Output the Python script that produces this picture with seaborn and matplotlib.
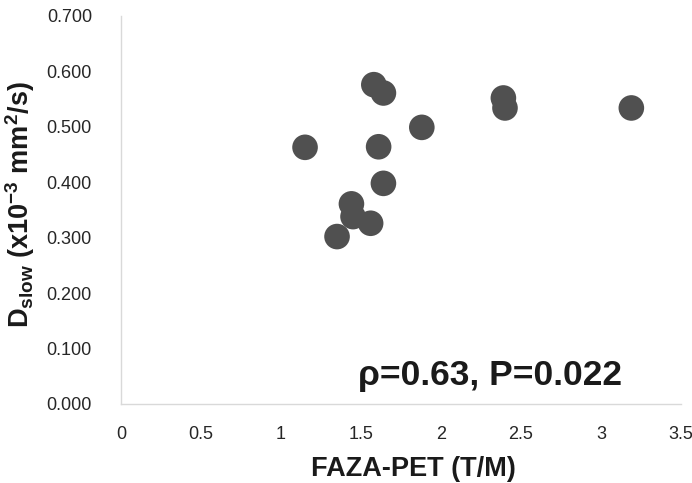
import matplotlib
matplotlib.use("Agg")
import matplotlib.pyplot as plt
import seaborn as sns
import pandas as pd

# values
faza_pet = [1.58, 1.64, 2.39, 2.40, 3.19, 1.88, 1.15, 1.61, 1.64, 1.44, 1.45, 1.56, 1.35]
d_slow = [0.576, 0.561, 0.552, 0.534, 0.534, 0.499, 0.463, 0.464, 0.398, 0.361, 0.338, 0.326, 0.302]
x_ticks = [0, 0.5, 1, 1.5, 2, 2.5, 3, 3.5]
y_ticks = [0.0, 0.1, 0.2, 0.3, 0.4, 0.5, 0.6, 0.7]
stat_text = "ρ=0.63, P=0.022"

df = pd.DataFrame({"faza": faza_pet, "dslow": d_slow})

sns.set_style("white")
plt.rcParams["font.family"] = ["Liberation Sans", "DejaVu Sans"]
plt.rcParams["mathtext.default"] = "regular"

fig = plt.figure(figsize=(6.92, 4.83), dpi=100)
ax = fig.add_axes([0.175, 0.1636, 0.809, 0.8034])

sns.scatterplot(data=df, x="faza", y="dslow", ax=ax, s=340, color="#505050",
                edgecolor="none", linewidth=0)

ax.set_xlim(0, 3.5)
ax.set_ylim(0, 0.7)
ax.set_xticks(x_ticks)
ax.set_xticklabels([f"{t:g}" for t in x_ticks])
ax.set_yticks(y_ticks)
ax.set_yticklabels([f"{t:.3f}" for t in y_ticks])
ax.tick_params(axis="both", length=0, labelsize=13, labelcolor="#262626")
ax.tick_params(axis="y", pad=21)
ax.tick_params(axis="x", pad=16)

for side in ["top", "right"]:
    ax.spines[side].set_visible(False)
for side in ["left", "bottom"]:
    ax.spines[side].set_color("#d9d9d9")
    ax.spines[side].set_linewidth(1)

ax.set_xlabel("FAZA-PET (T/M)", fontsize=19.5, fontweight="bold", color="#1a1a1a")
ax.xaxis.set_label_coords(0.522, -0.135)
ax.set_ylabel("D$_{slow}$ (x10$^{-3}$ mm$^{2}$/s)", fontsize=19.5, fontweight="bold",
              color="#1a1a1a")
ax.yaxis.set_label_coords(-0.15, 0.514)

ax.text(1.48, 0.034, stat_text, fontsize=25.5, fontweight="bold", color="#1a1a1a",
        ha="left", va="baseline")

fig.savefig("out.png", dpi=100)
